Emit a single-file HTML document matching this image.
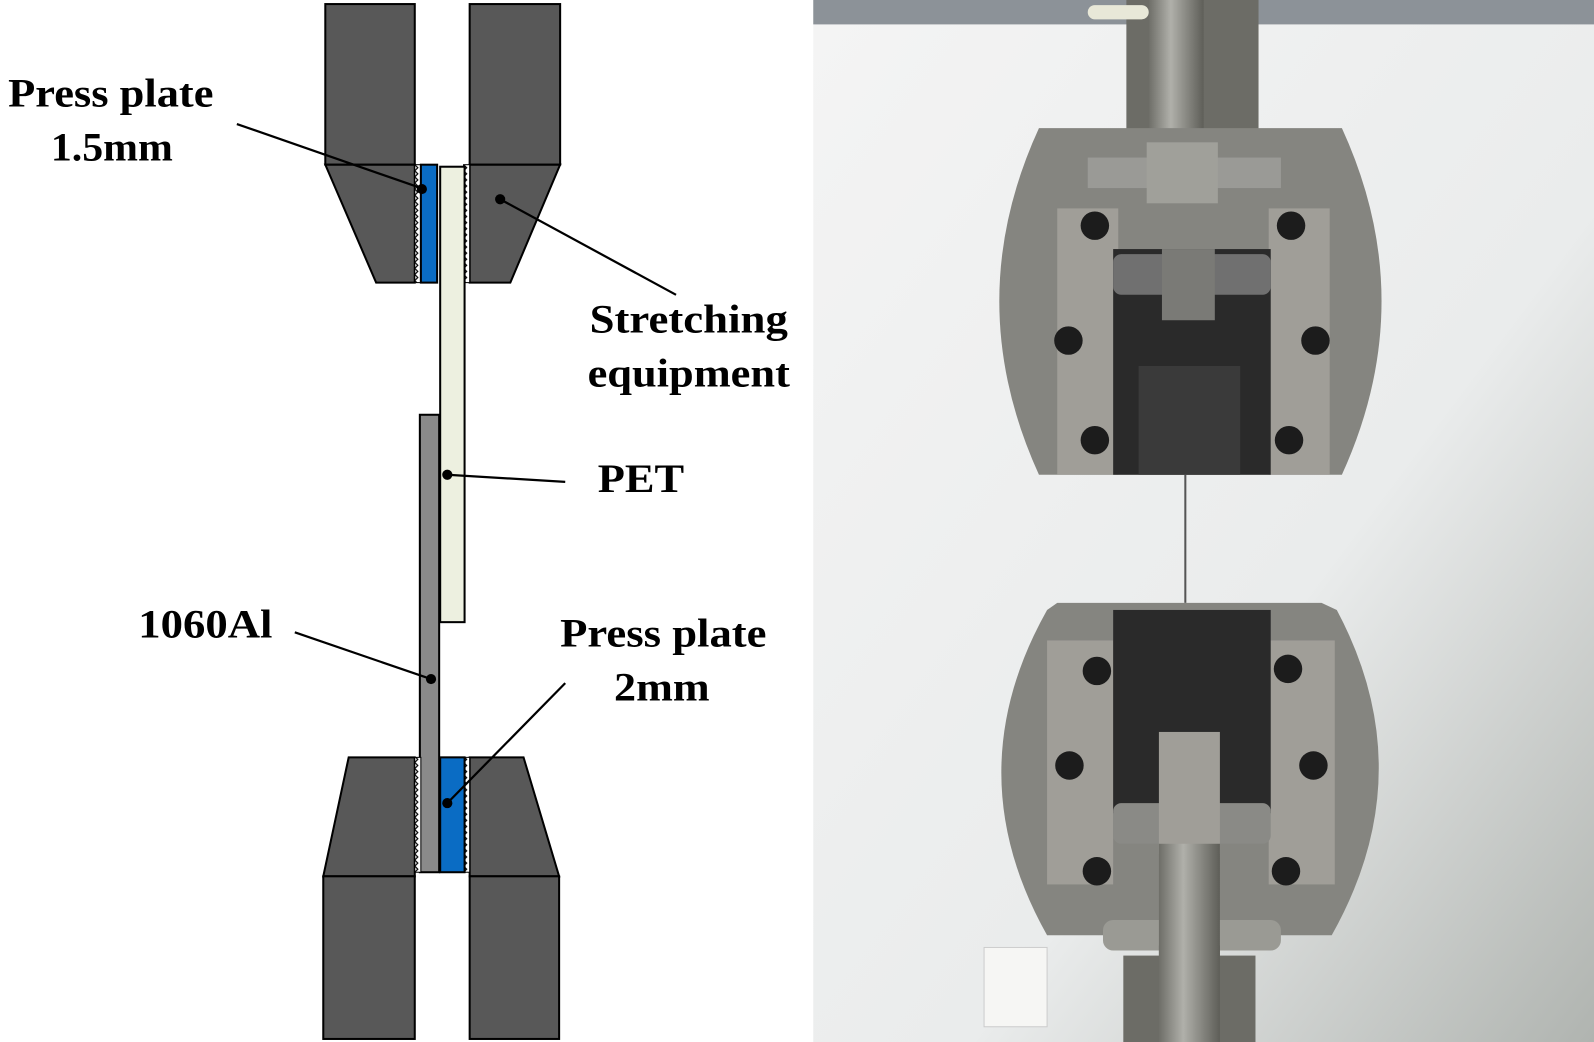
<!DOCTYPE html>
<html><head><style>html,body{margin:0;padding:0;background:#fff}svg{display:block}</style></head>
<body>
<svg width="1594" height="1042" viewBox="0 0 1568 1025" preserveAspectRatio="none" xmlns="http://www.w3.org/2000/svg">
<defs>
<linearGradient id="bg" x1="0" y1="0" x2="1" y2="1"><stop offset="0" stop-color="#f4f4f4"/><stop offset="0.6" stop-color="#eaecec"/><stop offset="1" stop-color="#b0b4b0"/></linearGradient>
<linearGradient id="rod" x1="0" x2="1"><stop offset="0" stop-color="#6e6e68"/><stop offset="0.4" stop-color="#b0b0aa"/><stop offset="1" stop-color="#5e5e58"/></linearGradient>
<pattern id="hatch" width="6" height="6" patternUnits="userSpaceOnUse"><rect width="6" height="6" fill="#fff"/><path d="M0 0L3 3L0 6" stroke="#000" stroke-width="1.2" fill="none"/></pattern>
</defs>
<rect width="1568" height="1025" fill="#fff"/>
<g stroke="#000" stroke-width="2">
<rect x="320" y="4" width="88" height="158" fill="#585858"/>
<rect x="462" y="4" width="89" height="158" fill="#585858"/>
<polygon points="320,162 408,162 408,278 370,278" fill="#585858"/>
<polygon points="462,162 551,162 502,278 462,278" fill="#585858"/>
<rect x="408" y="162" width="6" height="116" fill="url(#hatch)" stroke-width="1"/>
<rect x="456" y="162" width="6" height="116" fill="url(#hatch)" stroke-width="1"/>
<rect x="414" y="162" width="16" height="116" fill="#0a6cc4"/>
<rect x="433" y="164" width="24" height="448" fill="#edf0e0"/>
<rect x="413" y="408" width="19" height="450" fill="#8a8a8a"/>
<polygon points="343,745 408,745 408,862 318,862" fill="#585858"/>
<polygon points="462,745 515,745 550,862 462,862" fill="#585858"/>
<rect x="408" y="745" width="6" height="113" fill="url(#hatch)" stroke-width="1"/>
<rect x="456" y="745" width="6" height="113" fill="url(#hatch)" stroke-width="1"/>
<rect x="433" y="745" width="24" height="113" fill="#0a6cc4"/>
<rect x="318" y="862" width="90" height="160" fill="#585858"/>
<rect x="462" y="862" width="88" height="160" fill="#585858"/>
</g>
<g stroke="#000" stroke-width="2.2" fill="none">
<line x1="233" y1="122" x2="417" y2="186"/>
<line x1="492" y1="196" x2="665" y2="290"/>
<line x1="440" y1="467" x2="556" y2="474"/>
<line x1="290" y1="622" x2="424" y2="668"/>
<line x1="440" y1="790" x2="556" y2="672"/>
</g>
<g fill="#000"><circle cx="415" cy="186" r="5"/><circle cx="492" cy="196" r="5"/><circle cx="440" cy="467" r="5"/><circle cx="424" cy="668" r="5"/><circle cx="440" cy="790" r="5"/></g>
<g font-family="Liberation Serif, serif" font-weight="bold" font-size="40" fill="#000" lengthAdjust="spacingAndGlyphs">
<text x="8" y="105" textLength="202" lengthAdjust="spacingAndGlyphs">Press plate</text>
<text x="50" y="158" textLength="120" lengthAdjust="spacingAndGlyphs">1.5mm</text>
<text x="580" y="327" textLength="195" lengthAdjust="spacingAndGlyphs">Stretching</text>
<text x="578" y="380" textLength="199" lengthAdjust="spacingAndGlyphs">equipment</text>
<text x="588" y="484" textLength="85" lengthAdjust="spacingAndGlyphs">PET</text>
<text x="136" y="627" textLength="132" lengthAdjust="spacingAndGlyphs">1060Al</text>
<text x="551" y="636" textLength="203" lengthAdjust="spacingAndGlyphs">Press plate</text>
<text x="604" y="689" textLength="94" lengthAdjust="spacingAndGlyphs">2mm</text>
</g>
<rect x="800" y="0" width="768" height="1025" fill="url(#bg)"/>
<rect x="800" y="0" width="768" height="24" fill="#8c9298"/>
<rect x="1108" y="0" width="130" height="130" fill="#6c6c66"/>
<rect x="1130" y="0" width="54" height="245" fill="url(#rod)"/>
<rect x="1070" y="5" width="60" height="14" rx="7" fill="#e8e8d8"/>
<path d="M1022 126 L1320 126 Q1398 296 1320 467 L1022 467 Q944 296 1022 126Z" fill="#858580"/>
<rect x="1040" y="205" width="60" height="262" fill="#a09e98"/>
<rect x="1248" y="205" width="60" height="262" fill="#a09e98"/>
<rect x="1095" y="245" width="155" height="222" fill="#2a2a2a"/>
<rect x="1095" y="250" width="155" height="40" rx="8" fill="#707070"/>
<rect x="1143" y="245" width="52" height="70" fill="#7a7a76"/>
<rect x="1120" y="360" width="100" height="107" fill="#3a3a3a"/>
<rect x="1070" y="155" width="190" height="30" fill="#9a9a96"/>
<rect x="1128" y="140" width="70" height="60" fill="#a0a09a"/>
<g fill="#1c1c1c"><circle cx="1077" cy="222" r="14"/><circle cx="1270" cy="222" r="14"/><circle cx="1051" cy="335" r="14"/><circle cx="1294" cy="335" r="14"/><circle cx="1077" cy="433" r="14"/><circle cx="1268" cy="433" r="14"/></g>
<line x1="1166" y1="467" x2="1166" y2="593" stroke="#555" stroke-width="2"/>
<path d="M1040 593 L1300 593 L1315 600 Q1400 760 1310 920 L1030 920 Q940 760 1030 600Z" fill="#858580"/>
<rect x="1030" y="630" width="65" height="240" fill="#a09e98"/>
<rect x="1248" y="630" width="65" height="240" fill="#a09e98"/>
<rect x="1095" y="600" width="155" height="200" fill="#2a2a2a"/>
<rect x="1095" y="790" width="155" height="40" rx="8" fill="#8a8a86"/>
<rect x="1140" y="720" width="60" height="120" fill="#a09e98"/>
<g fill="#1c1c1c"><circle cx="1079" cy="660" r="14"/><circle cx="1267" cy="658" r="14"/><circle cx="1052" cy="753" r="14"/><circle cx="1292" cy="753" r="14"/><circle cx="1079" cy="857" r="14"/><circle cx="1265" cy="857" r="14"/></g>
<rect x="1085" y="905" width="175" height="30" rx="10" fill="#9a9a94"/>
<rect x="1140" y="830" width="60" height="195" fill="url(#rod)"/>
<rect x="1105" y="940" width="130" height="85" fill="#6c6c66"/>
<rect x="1140" y="930" width="60" height="95" fill="url(#rod)"/>
<rect x="968" y="932" width="62" height="78" fill="#f6f6f4" stroke="#ccc"/>
</svg>
</body></html>
